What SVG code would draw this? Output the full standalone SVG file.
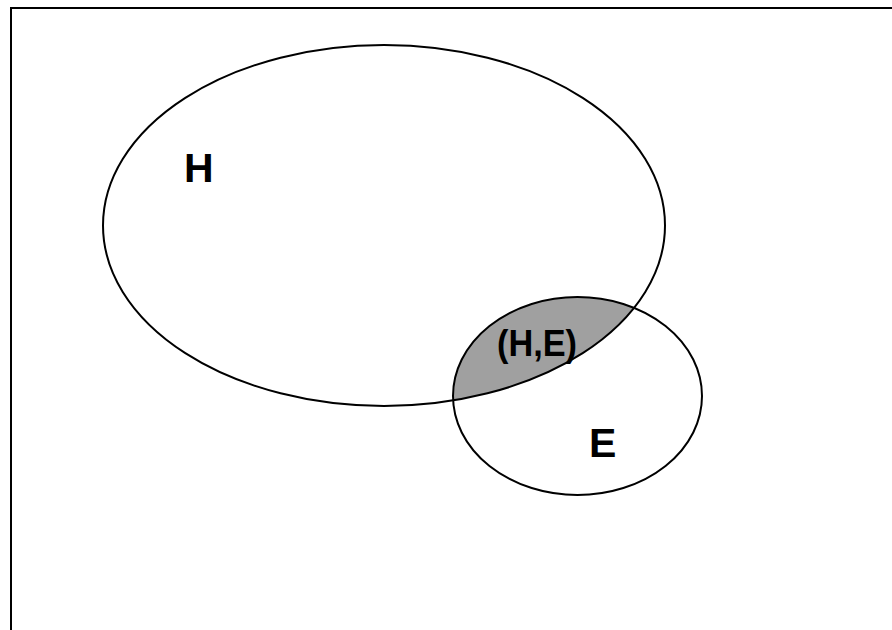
<svg xmlns="http://www.w3.org/2000/svg" width="892" height="630" viewBox="0 0 892 630">
<style>
.ell{fill:none;stroke:#000;stroke-width:2}
.lbl{font-family:"Liberation Sans",Arial,sans-serif;font-weight:bold;fill:#000}
</style>
<defs>
<clipPath id="clipH"><ellipse cx="384" cy="225.5" rx="281" ry="180.5"/></clipPath>
</defs>
<rect width="892" height="630" fill="#fff"/>
<g id="frame">
<line x1="10" y1="8" x2="892" y2="8" stroke="#000" stroke-width="2"/>
<line x1="11" y1="8" x2="11" y2="630" stroke="#000" stroke-width="2"/>
</g>
<g id="intersection">
<ellipse cx="577.5" cy="396" rx="124.5" ry="99" fill="#a0a0a0" clip-path="url(#clipH)"/>
<text class="lbl" x="497" y="356" font-size="37" textLength="80" lengthAdjust="spacingAndGlyphs">(H,E)</text>
</g>
<g id="nodeH">
<ellipse class="ell" cx="384" cy="225.5" rx="281" ry="180.5"/>
<text class="lbl" x="184" y="182" font-size="41">H</text>
</g>
<g id="nodeE">
<ellipse class="ell" cx="577.5" cy="396" rx="124.5" ry="99"/>
<text class="lbl" x="589" y="457" font-size="41">E</text>
</g>
<g id="connectors"></g>
</svg>
